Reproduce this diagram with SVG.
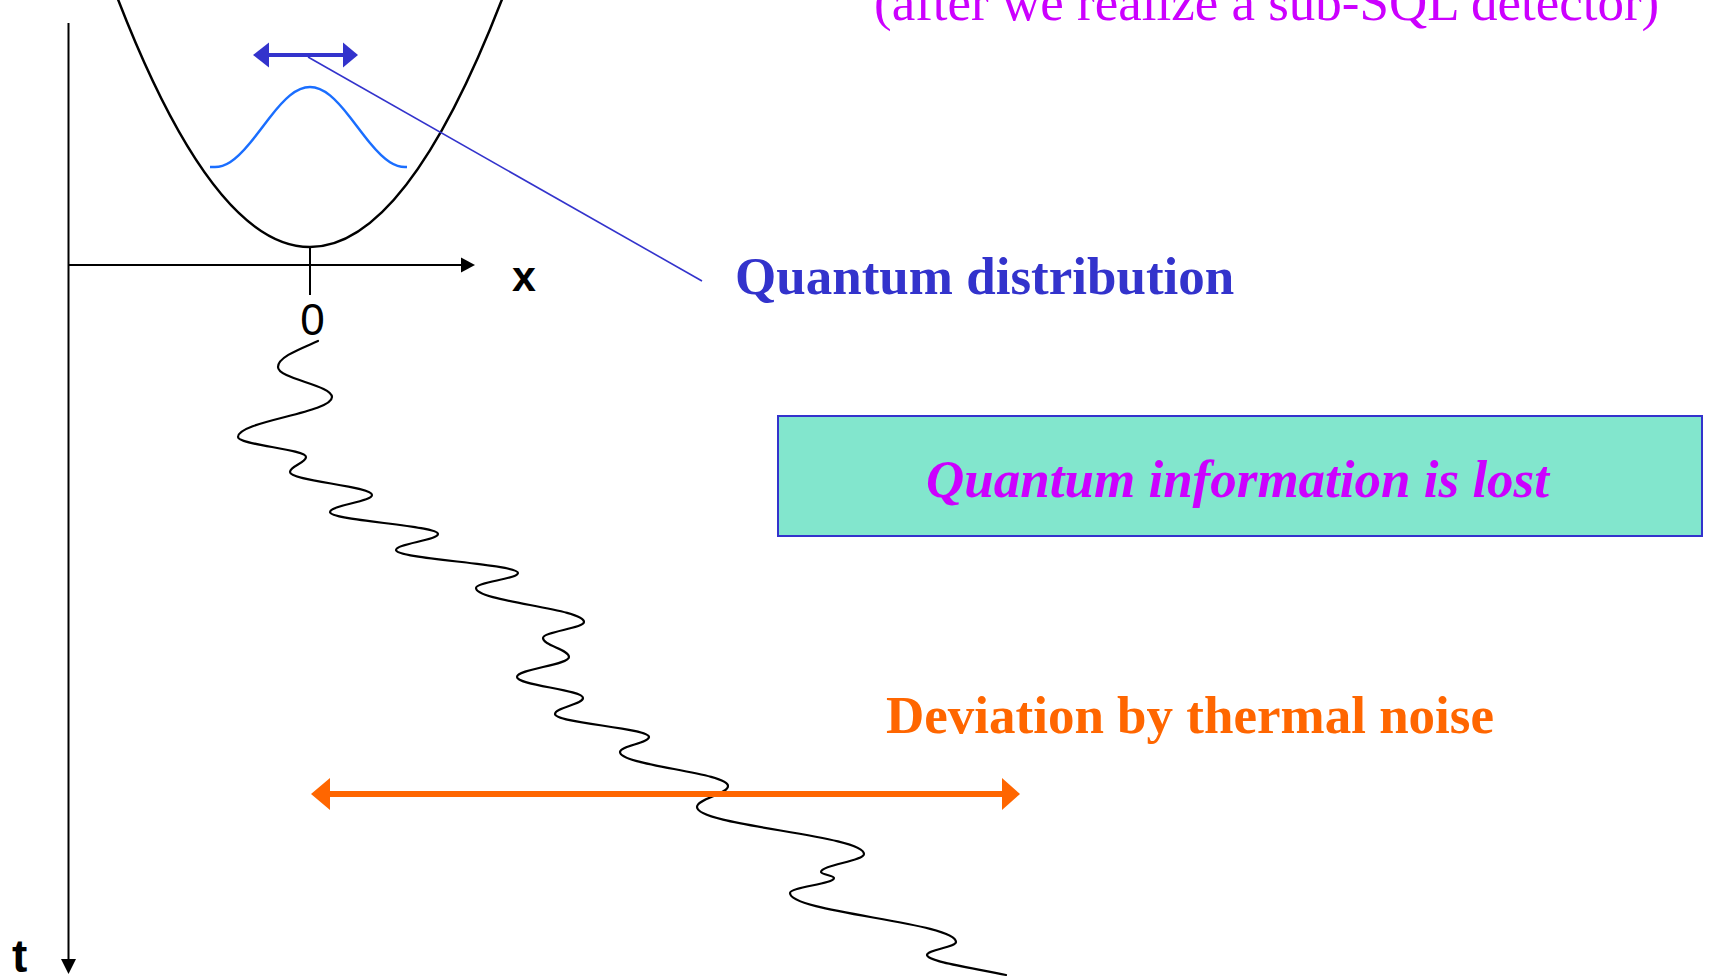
<svg xmlns="http://www.w3.org/2000/svg" width="1709" height="979" viewBox="0 0 1709 979">
<style>
.serif{font-family:"Liberation Serif","Times New Roman",serif;font-size:53px}
.sans{font-family:"Liberation Sans",Arial,sans-serif}
.ax{stroke:#000;stroke-width:2;fill:none}
.wig{stroke:#000;stroke-width:2.2;fill:none;stroke-linejoin:round;stroke-linecap:round}
</style>
<rect width="1709" height="979" fill="#fff"/>
<g id="axes">
<line class="ax" x1="68.5" y1="23" x2="68.5" y2="962"/>
<polygon points="61,959 76,959 68.5,974" fill="#000"/>
<line class="ax" x1="68" y1="265" x2="463" y2="265"/>
<polygon points="461,257.5 461,272.5 475,265" fill="#000"/>
<line class="ax" x1="310" y1="247" x2="310" y2="295"/>
<text class="sans" x="312.5" y="335" font-size="44" text-anchor="middle" fill="#000">0</text>
<text class="sans" x="512" y="291" font-size="43" font-weight="bold" fill="#000">x</text>
<text class="sans" x="12" y="972" font-size="46" font-weight="bold" fill="#000">t</text>
</g>
<g id="potential">
<path d="M114.4,-10 Q310,504 505.6,-10" stroke="#000" stroke-width="2.5" fill="none"/>
</g>
<g id="distribution">
<path d="M210,167 L215,167 C220,167 225,165.35 230,162.2 C236.67,158 243.33,151.08 250,143 C256.67,134.92 263.33,125.75 270,117.2 C276.67,108.65 283.33,100.82 290,95.4 C296.67,89.98 303.33,87 310,87 C316.67,87 323.33,89.98 330,95.4 C336.67,100.82 343.33,108.65 350,117.2 C356.67,125.75 363.33,134.92 370,143 C376.67,151.08 383.33,158 390,162.2 C395,165.35 400,167 405,167 L407,167" stroke="#1a6eff" stroke-width="2.5" fill="none"/>
</g>
<g id="quantum-width-arrow">
<line x1="266" y1="55" x2="346" y2="55" stroke="#3333cc" stroke-width="4"/>
<polygon points="253,55 269,42.5 269,67.5" fill="#3333cc"/>
<polygon points="358,55 343,42.5 343,67.5" fill="#3333cc"/>
</g>
<g id="connectors">
<line x1="308" y1="57" x2="702" y2="281" stroke="#3333cc" stroke-width="1.6"/>
</g>
<g id="random-walk">
<path class="wig" d="M318,341 C300,349 278,357 278,367 C278,379 332,385 332,397 C332,413 238,421 238,437 C238,445 306,449 306,457 C306,463 290,466 290,472 C290,481.2 372,485.8 372,495 C372,501.8 330,505.2 330,512 C330,520.8 438,525.2 438,534 C438,540.4 396,543.6 396,550 C396,559.2 518,563.8 518,573 C518,579 476,582 476,588 C476,601.6 584,608.4 584,622 C584,628.4 543,631.6 543,638 C543,645.6 569,649.4 569,657 C569,665 517,669 517,677 C517,685.4 583,689.6 583,698 C583,704.4 555,707.6 555,714 C555,723.2 649,727.8 649,737 C649,743 620,746 620,752 C620,765.6 728,772.4 728,786 C728,794.4 697,798.6 697,807 C697,825.8 864,835.2 864,854 C864,861.2 821,864.8 821,872 C821,874.4 834,875.6 834,878 C834,884 790,887 790,893 C790,912.6 956,922.4 956,942 C956,947.2 927,949.8 927,955 C927,962 980,969 1006,975"/>
</g>
<g id="thermal-arrow">
<line x1="326" y1="794" x2="1006" y2="794" stroke="#ff6600" stroke-width="6"/>
<polygon points="311,794 330,778 330,810" fill="#ff6600"/>
<polygon points="1020,794 1002,778 1002,810" fill="#ff6600"/>
</g>
<g id="title">
<text class="serif" x="874" y="20" fill="#cc00ff">(after we realize a sub-SQL detector)</text>
</g>
<g id="label-distribution">
<text class="serif" x="735" y="294" font-weight="bold" fill="#3333cc">Quantum distribution</text>
</g>
<g id="info-lost">
<rect x="778" y="416" width="924" height="120" fill="#82e6cd" stroke="#3333cc" stroke-width="2"/>
<text class="serif" x="926" y="497" font-weight="bold" font-style="italic" fill="#cc00ff">Quantum information is lost</text>
</g>
<g id="label-thermal">
<text class="serif" x="886" y="733" font-weight="bold" fill="#ff6600">Deviation by thermal noise</text>
</g>
</svg>
